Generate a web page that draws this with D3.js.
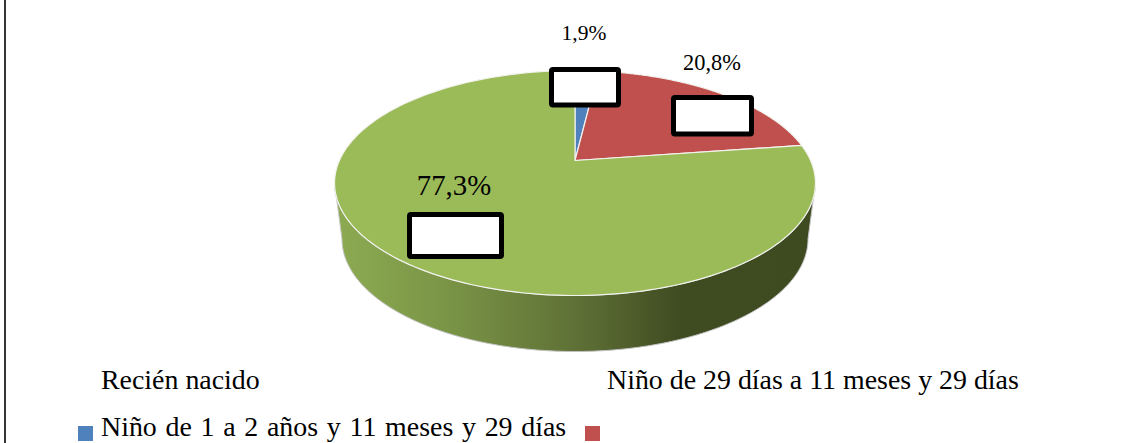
<!DOCTYPE html>
<html><head><meta charset="utf-8">
<script src="https://cdnjs.cloudflare.com/ajax/libs/d3/7.8.5/d3.min.js"></script>
<style>html,body{margin:0;padding:0;background:#fff;overflow:hidden}svg{display:block}text{font-family:"Liberation Serif",serif;fill:#000}</style>
</head><body><svg id="c" width="1133" height="443"></svg>
<script>
const categories = ["Niño de 1 a 2 años y 11 meses y 29 días","Niño de 29 días a 11 meses y 29 días","Recién nacido"];
const values = [1.9,20.8,77.3];
const valueLabels = ["1,9%","20,8%","77,3%"];
const colors = ["#4f81bd","#c0504d","#9bbb59"];

const svg = d3.select("#c");
const cx=575, cy=160.5, R=235.6, K=108, C=-0.2;
// perspective projection of the pie disc: u across, v toward viewer
function proj(a,dy=0,sx=1){
  const u=Math.sin(a), v=-Math.cos(a), d=1+C*v;
  return [cx+sx*R*u/d, cy+K*v/d+dy];
}
const arcs = d3.pie().sort(null).value(d=>d)(values);
const line = d3.line();
const steps = (a0,a1,n=180)=>d3.range(n+1).map(i=>a0+(a1-a0)*i/n);
// angles where the rim reaches its horizontal extremes (cos a = C)
const aRight = Math.acos(C), aLeft = 2*Math.PI-aRight;

const defs = svg.append("defs");
const g = defs.append("linearGradient").attr("id","side").attr("gradientUnits","userSpaceOnUse")
  .attr("x1",335).attr("x2",816).attr("y1",0).attr("y2",0);
[[0,"#8dab52"],[0.22,"#7b9647"],[0.5,"#5f7136"],[0.72,"#3f4b21"],[1,"#3e4a20"]]
  .forEach(s=>g.append("stop").attr("offset",s[0]).attr("stop-color",s[1]));

// side wall
const depth=56, sx=0.969;
const lower = steps(aRight,aLeft).map(a=>proj(a));
const upper = steps(aLeft,aRight).map(a=>proj(a,depth,sx));
svg.append("path").attr("d",line(lower.concat(upper))+"Z")
  .attr("fill","url(#side)").attr("stroke","#c4c4c4").attr("stroke-width",1);

// top slices
svg.append("g").selectAll("path").data(arcs).join("path")
  .attr("d",d=>line([[cx,cy]].concat(steps(d.startAngle,d.endAngle).map(a=>proj(a))))+"Z")
  .attr("fill",(d,i)=>colors[i])
  .attr("stroke","#f2f2ee").attr("stroke-width",1.2).attr("stroke-linejoin","round");

// masking boxes
const boxes=[[551.5,69.5,67,35.5],[673.5,97.5,78,36.5],[409.5,214.5,92,42]];
svg.append("g").selectAll("rect").data(boxes).join("rect")
  .attr("x",d=>d[0]).attr("y",d=>d[1]).attr("width",d=>d[2]).attr("height",d=>d[3])
  .attr("rx",1.5).attr("fill","#fff").attr("stroke","#000").attr("stroke-width",5);

// value labels
const lab=[[584,40,21.5],[712,70,22.4],[454,195,28.8]];
svg.append("g").selectAll("text").data(valueLabels).join("text")
  .attr("x",(d,i)=>lab[i][0]).attr("y",(d,i)=>lab[i][1]).attr("font-size",(d,i)=>lab[i][2])
  .attr("text-anchor","middle").text(d=>d);

// legend
const leg=[[101,436,1.75],[607,389,0],[101,389,0]];
svg.append("g").selectAll("text").data(categories).join("text")
  .attr("x",(d,i)=>leg[i][0]).attr("y",(d,i)=>leg[i][1]).attr("font-size",27.9)
  .attr("word-spacing",(d,i)=>leg[i][2]).text(d=>d);
const sw=[[78,426],[585,426]];
svg.append("g").selectAll("rect").data(sw).join("rect")
  .attr("x",d=>d[0]).attr("y",d=>d[1]).attr("width",15).attr("height",15)
  .attr("fill",(d,i)=>colors[i]);

// page rule at left
svg.append("rect").attr("x",4).attr("y",0).attr("width",2).attr("height",443).attr("fill","#333");
</script></body></html>
